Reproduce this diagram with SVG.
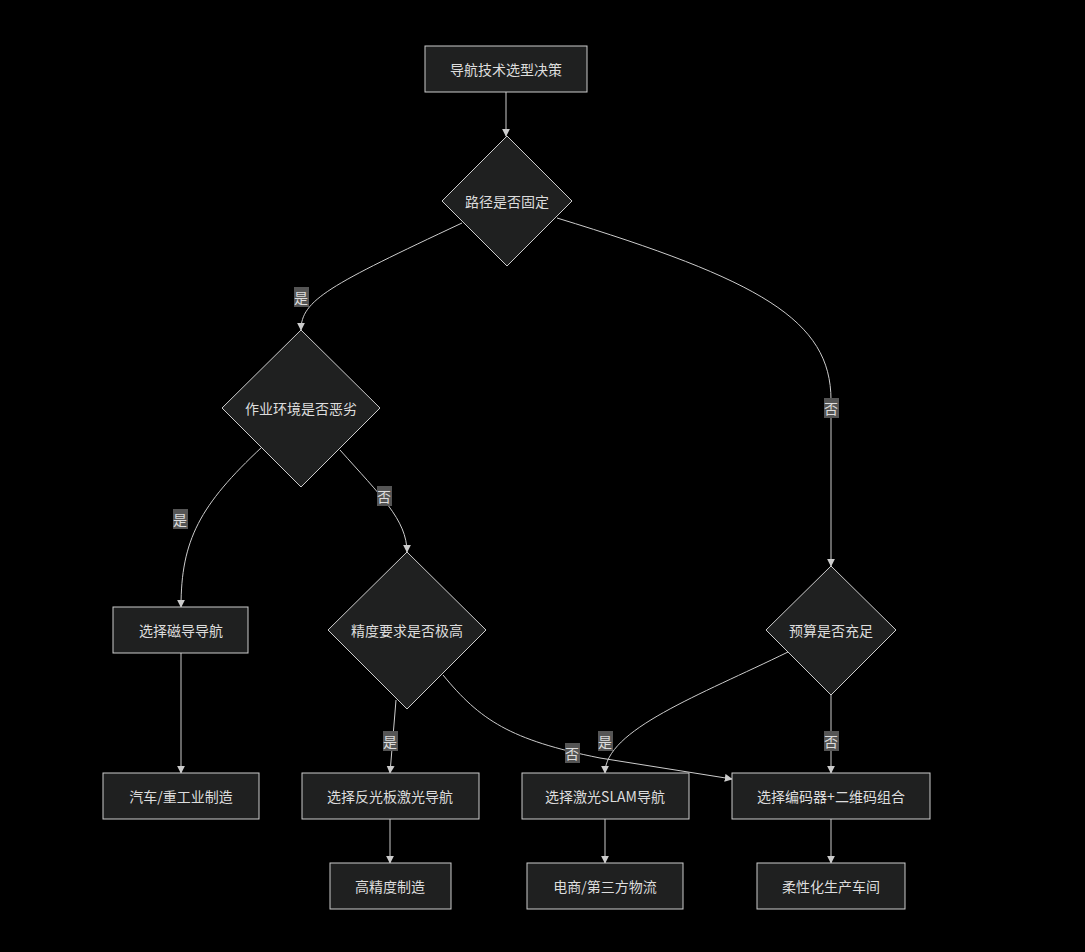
<svg xmlns="http://www.w3.org/2000/svg" width="1085" height="952" viewBox="0 0 1085 952">
<style>
.n{fill:#1f2020;stroke:#ccc;stroke-width:1}
.t{fill:#ddd;font-family:"Noto Sans CJK SC","Liberation Sans",sans-serif;font-size:14px;text-anchor:middle;dominant-baseline:central}
.e{fill:none;stroke:#ccc;stroke-width:1;marker-end:url(#a)}
.lb{fill:#555}
.lt{fill:#ddd;font-family:"Noto Sans CJK SC","Liberation Sans",sans-serif;font-size:14px;text-anchor:middle;dominant-baseline:central}
</style>
<defs><marker id="a" viewBox="0 0 10 10" refX="9" refY="5" markerWidth="8" markerHeight="8" orient="auto"><path d="M0,0L10,5L0,10z" fill="#ccc"/></marker></defs>
<rect width="1085" height="952" fill="#000"/>
<g id="edges">
<path class="e" d="M506,92 L506,136"/>
<path class="e" d="M462,223 C330,285 301,300 301,330"/>
<path class="e" d="M557,218 C760,280 831,320 831,400 L831,566"/>
<path class="e" d="M262,447 C200,505 181,540 181,607"/>
<path class="e" d="M340,450 C380,495 407,520 407,552"/>
<path class="e" d="M181,653 L181,773"/>
<path class="e" d="M396,700 L390,773"/>
<path class="e" d="M443,675 C480,720 510,740 600,758 L732,779"/>
<path class="e" d="M788,652 C700,695 605,730 605,773"/>
<path class="e" d="M831,695 L831,773"/>
<path class="e" d="M390,819 L390,863"/>
<path class="e" d="M605,819 L605,863"/>
<path class="e" d="M831,819 L831,863"/>
<g>
<rect class="lb" x="294" y="287" width="15" height="20"/><text class="lt" x="301" y="297">是</text>
<rect class="lb" x="824" y="398" width="15" height="20"/><text class="lt" x="831" y="408">否</text>
<rect class="lb" x="173" y="509" width="15" height="20"/><text class="lt" x="180" y="519">是</text>
<rect class="lb" x="377" y="486" width="15" height="20"/><text class="lt" x="384" y="496">否</text>
<rect class="lb" x="383" y="731" width="15" height="20"/><text class="lt" x="390" y="741">是</text>
<rect class="lb" x="565" y="743" width="15" height="20"/><text class="lt" x="572" y="753">否</text>
<rect class="lb" x="598" y="731" width="15" height="20"/><text class="lt" x="605" y="741">是</text>
<rect class="lb" x="824" y="731" width="15" height="20"/><text class="lt" x="831" y="741">否</text>
</g>
</g>
<g id="start"><rect class="n" x="425" y="46" width="162" height="46"/><text class="t" x="506" y="69">导航技术选型决策</text></g>
<g id="d1"><polygon class="n" points="507,136 572,201 507,266 442,201"/><text class="t" x="507" y="201">路径是否固定</text></g>
<g id="d2"><polygon class="n" points="301,330 380,408 301,487 222,408"/><text class="t" x="301" y="408">作业环境是否恶劣</text></g>
<g id="d3"><polygon class="n" points="407,552 486,630 407,709 328,630"/><text class="t" x="407" y="630">精度要求是否极高</text></g>
<g id="d4"><polygon class="n" points="831,566 896,630 831,695 766,630"/><text class="t" x="831" y="630">预算是否充足</text></g>
<g id="mag"><rect class="n" x="113" y="607" width="135" height="46"/><text class="t" x="181" y="630">选择磁导导航</text></g>
<g id="car"><rect class="n" x="103" y="773" width="156" height="46"/><text class="t" x="181" y="796">汽车/重工业制造</text></g>
<g id="refl"><rect class="n" x="302" y="773" width="177" height="46"/><text class="t" x="390" y="796">选择反光板激光导航</text></g>
<g id="slam"><rect class="n" x="522" y="773" width="167" height="46"/><text class="t" x="605" y="796">选择激光SLAM导航</text></g>
<g id="enc"><rect class="n" x="732" y="773" width="198" height="46"/><text class="t" x="831" y="796">选择编码器+二维码组合</text></g>
<g id="hp"><rect class="n" x="330" y="863" width="121" height="46"/><text class="t" x="390" y="886">高精度制造</text></g>
<g id="ec"><rect class="n" x="527" y="863" width="156" height="46"/><text class="t" x="605" y="886">电商/第三方物流</text></g>
<g id="flex"><rect class="n" x="757" y="863" width="148" height="46"/><text class="t" x="831" y="886">柔性化生产车间</text></g>
</svg>
